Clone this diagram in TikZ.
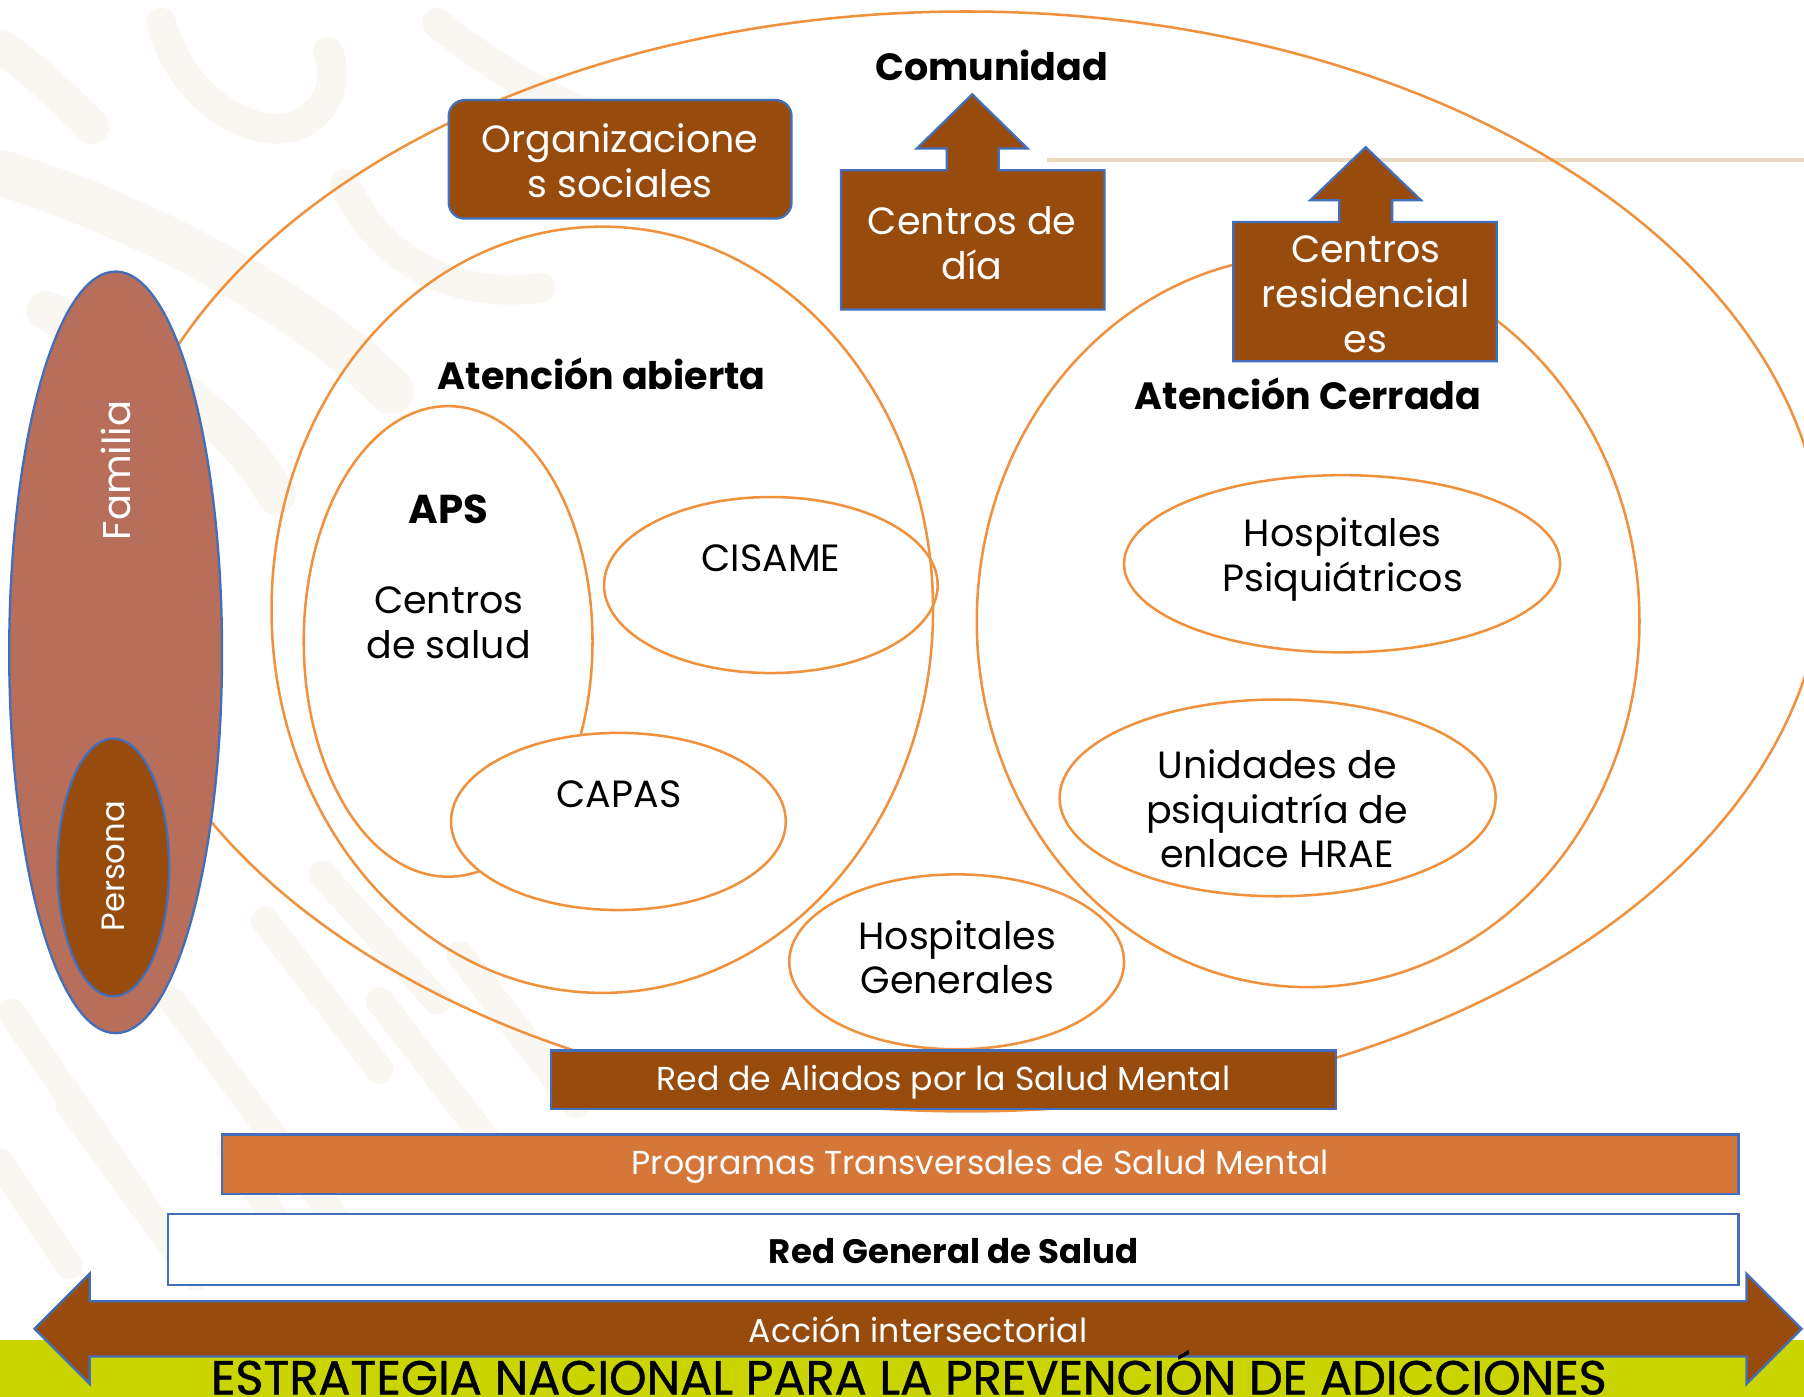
\documentclass[tikz,border=0pt]{standalone}
\usepackage{fontspec}
\setmainfont{Poppins}
\newfontfamily\pmedium{Poppins}[FakeBold=1]
\usetikzlibrary{shapes.geometric}
\definecolor{brownF}{RGB}{151,75,12}
\definecolor{salmonF}{RGB}{183,110,91}
\definecolor{orangeBar}{RGB}{212,119,56}
\definecolor{orangeL}{RGB}{240,145,62}
\definecolor{blueB}{RGB}{66,110,186}
\definecolor{yellowBand}{RGB}{201,212,0}
\definecolor{beigeL}{RGB}{232,218,190}
\definecolor{wm}{RGB}{250,247,242}
\begin{document}
\begin{tikzpicture}[x=1pt,y=-1pt,
  ell/.style={ellipse, draw=orangeL, line width=2.2pt, inner sep=0pt},
  well/.style={ell, fill=white},
  lbl/.style={font=\fontsize{33}{39}\selectfont, align=center, text=black, inner sep=0pt},
  wlbl/.style={lbl, text=white},
  hdr/.style={font=\bfseries\fontsize{33}{36}\selectfont, text=black, inner sep=0pt},
  bar/.style={draw=blueB, line width=2pt},
  barlbl/.style={font=\fontsize{28.8}{32}\selectfont, inner sep=0pt},
  wmk/.style={draw=wm, line cap=round}]
\useasboundingbox (0,0) rectangle (1568,1214);
\fill[white] (0,0) rectangle (1568,1214);
% faint watermark
\begin{scope}[wmk]
  \draw[line width=40pt] (0,150) .. controls (100,180) and (250,250) .. (340,340);
  \draw[line width=34pt] (40,270) .. controls (120,310) and (200,360) .. (240,430);
  \draw[line width=26pt] (140,20) .. controls (160,90) and (220,120) .. (255,110) .. controls (285,100) and (295,70) .. (285,45);
  \draw[line width=26pt] (300,160) .. controls (330,230) and (400,260) .. (470,250);
  \draw[line width=30pt] (0,40) .. controls (30,60) and (60,90) .. (80,110);
  \draw[line width=26pt] (380,20) .. controls (430,60) and (480,90) .. (540,110);
  \draw[line width=24pt] (10,880) -- (120,1040);
  \draw[line width=24pt] (60,960) -- (170,1110);
  \draw[line width=24pt] (150,870) -- (300,1070);
  \draw[line width=24pt] (230,800) -- (330,930);
  \draw[line width=24pt] (200,1000) -- (260,1090);
  \draw[line width=24pt] (330,870) -- (430,1000);
  \draw[line width=24pt] (280,760) -- (380,870);
  \draw[line width=24pt] (400,830) -- (500,960);
  \draw[line width=24pt] (0,1010) -- (60,1100);
\end{scope}
% beige line
\draw[beigeL, line width=3pt] (910,139) -- (1568,139);
% ellipses
\node[ell, minimum width=1490pt, minimum height=956pt] (comunidad) at (840,488) {};
\node[ell, minimum width=575pt, minimum height=666pt] (abierta) at (523.5,530) {};
\node[ell, minimum width=251pt, minimum height=409pt] (aps) at (389.5,557.5) {};
\node[ell, minimum width=290pt, minimum height=153pt] (cisame) at (670,508.5) {};
\node[well, minimum width=291pt, minimum height=154pt] (capas) at (537.5,714) {};
\node[ell, minimum width=576pt, minimum height=636pt] (cerrada) at (1137,540) {};
\node[well, minimum width=291pt, minimum height=152pt] (hg) at (831.5,836) {};
\node[ell, minimum width=379pt, minimum height=154pt] (hp) at (1166.5,490) {};
\node[ell, minimum width=379pt, minimum height=171pt] (up) at (1110.5,693.5) {};
% Organizaciones sociales
\node[bar, fill=brownF, rounded corners=14pt, minimum width=298pt, minimum height=103pt, inner sep=0pt] (org) at (539,138.5) {};
\node[wlbl] (orgt) at (539,140) {Organizacione\\s sociales};
% Centros de dia arrow callout
\draw[bar, fill=brownF] (731,148) -- (823,148) -- (823,129) -- (797,129) -- (845,82) -- (893,129) -- (868,129) -- (868,148) -- (960,148) -- (960,269) -- (731,269) -- cycle;
\node[wlbl] (cdia) at (845,211) {Centros de\\día};
% Centros residenciales arrow callout
\draw[bar, fill=brownF] (1072,193) -- (1164,193) -- (1164,174) -- (1139,174) -- (1187,128) -- (1235,174) -- (1210,174) -- (1210,193) -- (1301,193) -- (1301,314) -- (1072,314) -- cycle;
\node[wlbl] (cres) at (1187,256) {Centros\\residencial\\es};
% Familia / Persona
\node[ellipse, bar, fill=salmonF, minimum width=185pt, minimum height=662pt, inner sep=0pt] (familia) at (100.5,567) {};
\node[ellipse, bar, fill=brownF, minimum width=97pt, minimum height=224pt, inner sep=0pt] (persona) at (98.5,754) {};
\node[wlbl, rotate=90, font=\fontsize{33.5}{36}\selectfont] (familiat) at (101,409) {Familia};
\node[wlbl, rotate=90, font=\fontsize{28}{32}\selectfont] (personat) at (99,753) {Persona};
% headers
\node[hdr] (comt) at (862,57) {Comunidad};
\node[hdr] (abt) at (523,325) {Atención abierta};
\node[hdr] (cet) at (1137,342) {Atención Cerrada};
\node[hdr, font=\bfseries\fontsize{35}{36}\selectfont] (apst) at (390,443) {APS};
% labels
\node[lbl] (cst) at (390,541) {Centros\\de salud};
\node[lbl] (cisamet) at (670,485) {CISAME};
\node[lbl] (capast) at (538,690) {CAPAS};
\node[lbl] (hgt) at (832,832) {Hospitales\\Generales};
\node[lbl] (hpt) at (1167,486) {Hospitales\\Psiquiátricos};
\node[lbl] (upt) at (1110,703) {Unidades de\\psiquiatría de\\enlace HRAE};
% bars
\node[bar, fill=brownF, minimum width=682pt, minimum height=51pt, inner sep=0pt] (aliados) at (820,938.5) {};
\node[barlbl, text=white] (aliadost) at (820,941) {Red de Aliados por la Salud Mental};
\node[bar, fill=orangeBar, minimum width=1318pt, minimum height=52pt, inner sep=0pt] (programas) at (852,1012) {};
\node[barlbl, text=white] (programast) at (852,1014) {Programas Transversales de Salud Mental};
\node[bar, fill=white, minimum width=1365pt, minimum height=62pt, inner sep=0pt] (redgen) at (828.5,1086) {};
\node[barlbl, font=\bfseries\fontsize{29.5}{32}\selectfont] (redgent) at (829,1087) {Red General de Salud};
% bottom band
\fill[yellowBand] (0,1165) rectangle (1568,1214);
% double arrow
\draw[bar, fill=brownF] (30,1155) -- (78,1107) -- (78,1131) -- (1518,1131) -- (1518,1107) -- (1566,1155) -- (1518,1203) -- (1518,1179) -- (78,1179) -- (78,1203) -- cycle;
\node[barlbl, text=white] (acciont) at (798,1156) {Acción intersectorial};
\node[anchor=base, inner sep=0pt, font=\pmedium\fontsize{41.5}{44}\selectfont] (estrat) at (790,1212) {ESTRATEGIA NACIONAL PARA LA PREVENCIÓN DE ADICCIONES};
\end{tikzpicture}
\end{document}
